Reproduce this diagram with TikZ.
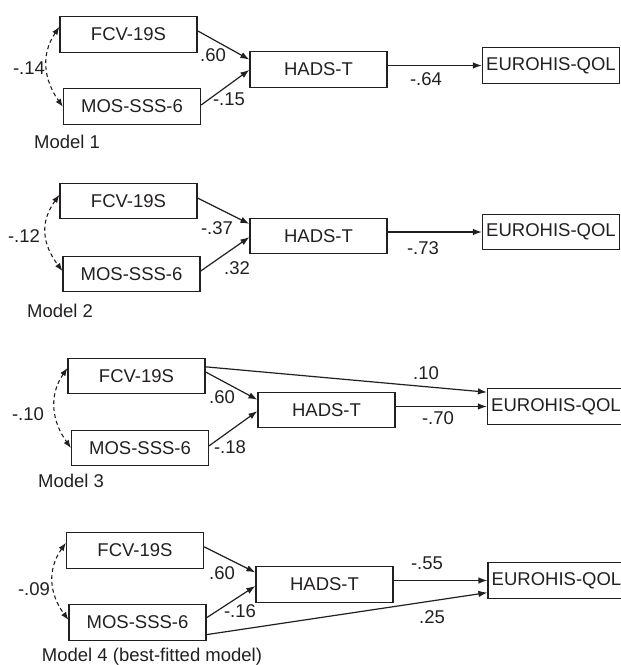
\documentclass[tikz,border=0pt]{standalone}
\usepackage{fontspec}
\setmainfont{Liberation Sans}
\usetikzlibrary{arrows.meta,calc}
\definecolor{ink}{RGB}{35,31,32}
\tikzset{
  var/.style={draw=ink, line width=1.2pt, minimum width=137pt, minimum height=35.5pt, inner sep=0pt, text=ink, font=\fontsize{18.5}{22}\selectfont},
  path/.style={draw=ink, line width=1.2pt, -{Latex[length=9pt,width=6.5pt]}},
  cov/.style={draw=ink, line width=1.1pt, dash pattern=on 4pt off 3pt, {Latex[length=8pt,width=6pt]}-{Latex[length=8pt,width=6pt]}},
  coef/.style={text=ink, inner sep=0pt, font=\fontsize{18.5}{22}\selectfont},
}
\begin{document}
\begin{tikzpicture}[x=1pt,y=-1pt]
\useasboundingbox (0,0) rectangle (621,665);
% ---------- Model 1
\node[var] (f1) at (128.5,34.5) {FCV-19S};
\node[var] (m1) at (132,106.5) {MOS-SSS-6};
\node[var] (h1) at (318.5,69.5) {HADS-T};
\node[var] (e1) at (551,65.5) {EUROHIS-QOL};
\draw[path] ($(f1.north east)!0.40!(f1.south east)$) -- ($(h1.north west)!0.23!(h1.south west)$);
\draw[path] ($(m1.north east)!0.46!(m1.south east)$) -- ($(h1.north west)!0.51!(h1.south west)$);
\draw[path] (h1.east |- e1.west) -- (e1.west);
\draw[cov] ($(f1.north west)!0.29!(f1.south west)$) .. controls +(-19,28) and +(-19,-27) .. ($(m1.north west)!0.51!(m1.south west)$);
\node[coef] (l1a) at (213,55) {.60};
\node[coef] (l1b) at (229,99) {-.15};
\node[coef] (l1c) at (426,79) {-.64};
\node[coef] (l1d) at (29,68) {-.14};
\node[coef] (t1) at (67,142) {Model 1};
% ---------- Model 2
\node[var] (f2) at (128.5,201) {FCV-19S};
\node[var] (m2) at (131.5,274) {MOS-SSS-6};
\node[var] (h2) at (318.5,236) {HADS-T};
\node[var] (e2) at (551,232) {EUROHIS-QOL};
\draw[path] ($(f2.north east)!0.42!(f2.south east)$) -- ($(h2.north west)!0.17!(h2.south west)$);
\draw[path] ($(m2.north east)!0.42!(m2.south east)$) -- ($(h2.north west)!0.53!(h2.south west)$);
\draw[path] (h2.east |- e2.west) -- (e2.west);
\draw[cov] ($(f2.north west)!0.33!(f2.south west)$) .. controls +(-20,28) and +(-20,-27) .. ($(m2.north west)!0.42!(m2.south west)$);
\node[coef] (l2a) at (217,228) {-.37};
\node[coef] (l2b) at (237,268) {.32};
\node[coef] (l2c) at (423,248) {-.73};
\node[coef] (l2d) at (24,236) {-.12};
\node[coef] (t2) at (60,311) {Model 2};
% ---------- Model 3
\node[var] (f3) at (136.5,376) {FCV-19S};
\node[var] (m3) at (140,448) {MOS-SSS-6};
\node[var] (h3) at (326.5,410) {HADS-T};
\node[var] (e3) at (556,406.5) {EUROHIS-QOL};
\draw[path] ($(f3.north east)!0.39!(f3.south east)$) -- ($(h3.north west)!0.22!(h3.south west)$);
\draw[path] ($(f3.north east)!0.25!(f3.south east)$) -- ($(e3.north west)!0.11!(e3.south west)$);
\draw[path] ($(m3.north east)!0.44!(m3.south east)$) -- ($(h3.north west)!0.53!(h3.south west)$);
\draw[path] (h3.east |- e3.west) -- (e3.west);
\draw[cov] ($(f3.north west)!0.28!(f3.south west)$) .. controls +(-19,28) and +(-19,-27) .. ($(m3.north west)!0.50!(m3.south west)$);
\node[coef] (l3a) at (222,397) {.60};
\node[coef] (l3b) at (230,447) {-.18};
\node[coef] (l3c) at (426,373) {.10};
\node[coef] (l3d) at (438,418) {-.70};
\node[coef] (l3e) at (28,414) {-.10};
\node[coef] (t3) at (71,481) {Model 3};
% ---------- Model 4
\node[var] (f4) at (135,550.5) {FCV-19S};
\node[var] (m4) at (137.5,622.5) {MOS-SSS-6};
\node[var] (h4) at (324.5,584.5) {HADS-T};
\node[var] (e4) at (556.5,580.5) {EUROHIS-QOL};
\draw[path] ($(f4.north east)!0.40!(f4.south east)$) -- ($(h4.north west)!0.17!(h4.south west)$);
\draw[path] ($(m4.north east)!0.37!(m4.south east)$) -- ($(h4.north west)!0.54!(h4.south west)$);
\draw[path] (h4.east |- e4.west) -- (e4.west);
\draw[path] ($(m4.north east)!0.83!(m4.south east)$) -- ($(e4.north west)!0.83!(e4.south west)$);
\draw[cov] ($(f4.north west)!0.29!(f4.south west)$) .. controls +(-19,27) and +(-19,-26) .. ($(m4.north west)!0.43!(m4.south west)$);
\node[coef] (l4a) at (222,573) {.60};
\node[coef] (l4b) at (240,611) {-.16};
\node[coef] (l4c) at (427,563) {-.55};
\node[coef] (l4d) at (432,617) {.25};
\node[coef] (l4e) at (34,589) {-.09};
\node[coef] (t4) at (152,657) {Model 4 (best-fitted model)};
\end{tikzpicture}
\end{document}
